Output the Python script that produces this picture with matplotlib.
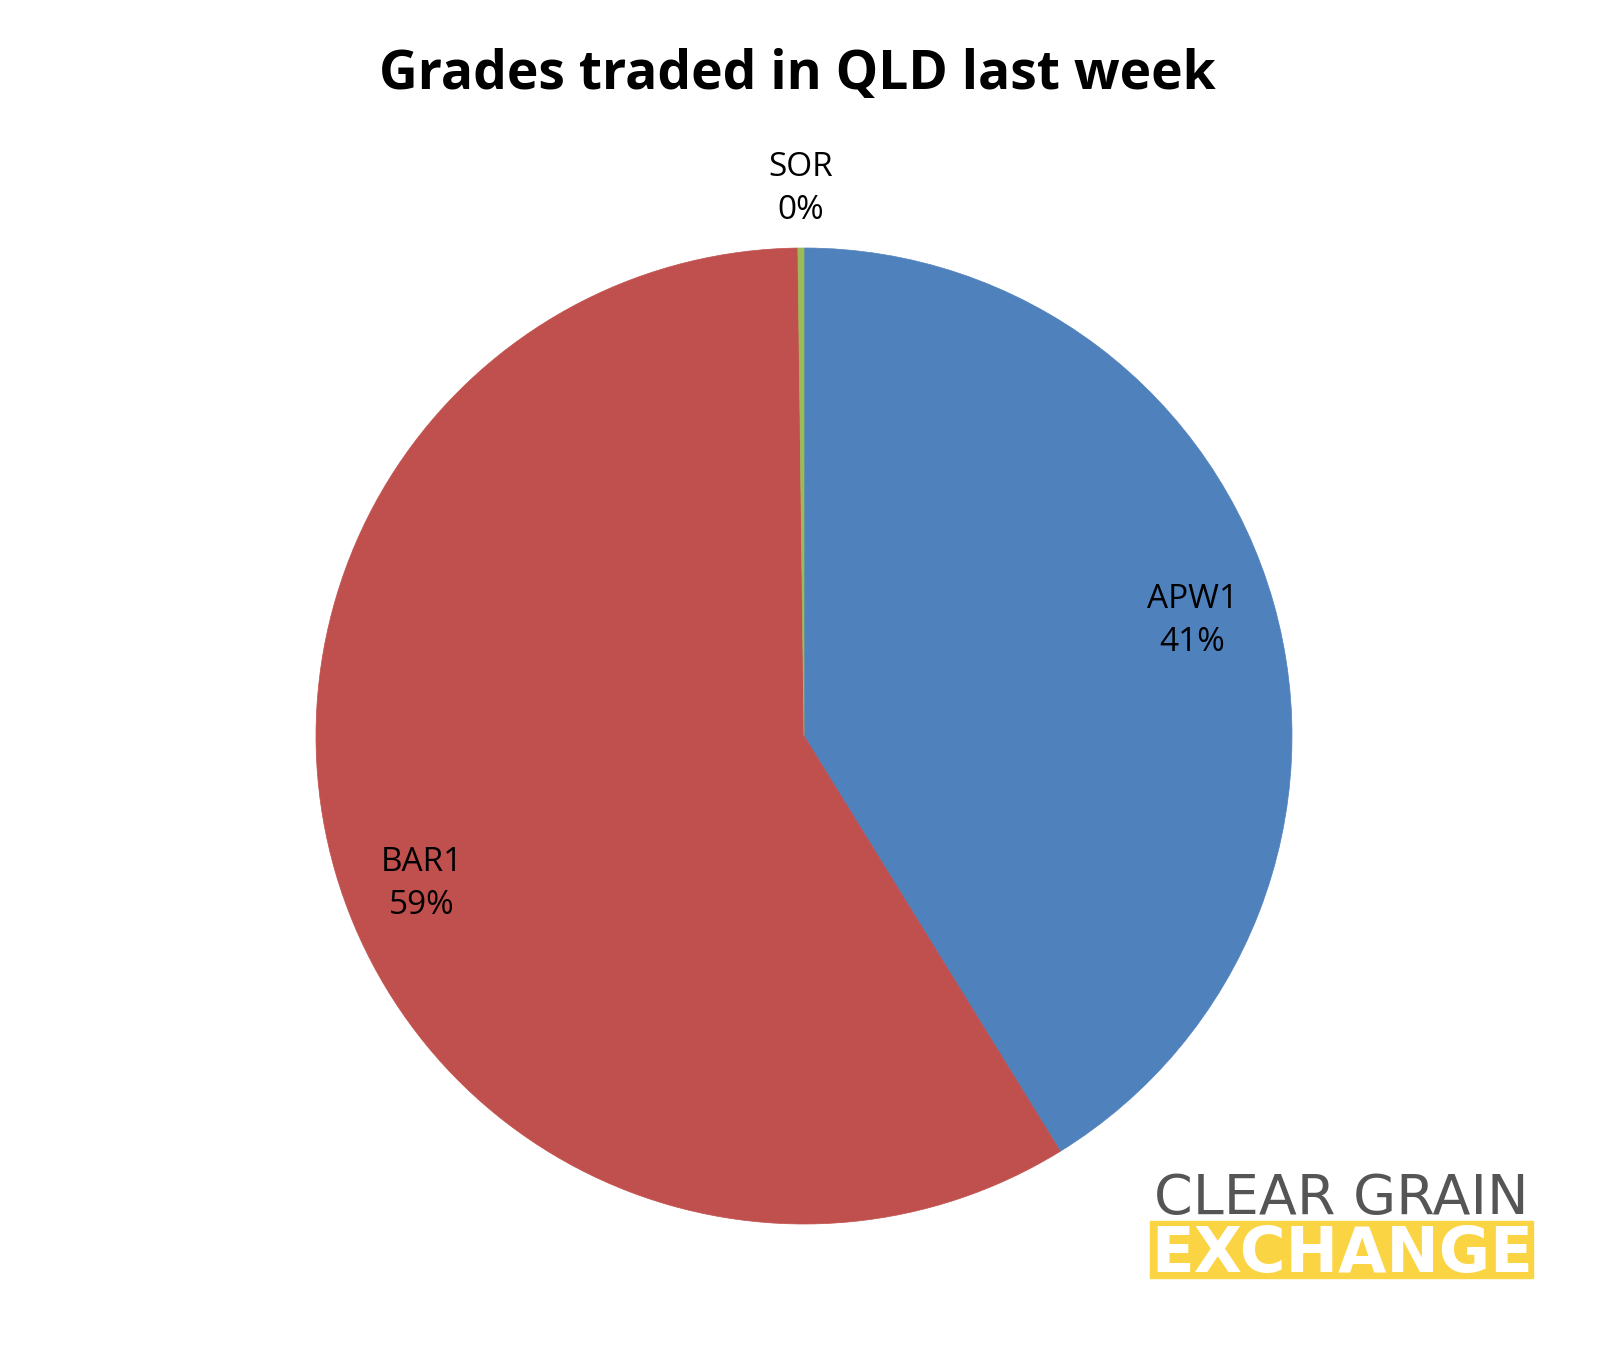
import numpy as np
import matplotlib
matplotlib.use("Agg")
import matplotlib.pyplot as plt
from matplotlib.patches import Rectangle

# data
grades = ["APW1", "BAR1", "SOR"]
shares = [41.2, 58.6, 0.2]
colors = ["#4F81BD", "#C0504D", "#9BBB59"]
# label placement: radius and angle nudge (deg) from the wedge middle
label_radius = [0.83, 0.84, 1.12]
label_nudge = [0.7, 5.0, 0.0]

plt.rcParams["font.family"] = ["Open Sans", "DejaVu Sans"]

fig = plt.figure(figsize=(16.09, 13.51), dpi=100)

# pie centred at (804, 736) px, radius 488 px
W, H = 1609, 1351
cx, cy, r = 804, H - 736, 488
ax = fig.add_axes([(cx - r) / W, (cy - r) / H, 2 * r / W, 2 * r / H])

wedges, _ = ax.pie(shares, colors=colors, startangle=90, counterclock=False,
                   wedgeprops=dict(linewidth=0))
for w, c in zip(wedges, colors):
    w.set_edgecolor(c)
    w.set_linewidth(0.5)
ax.set_xlim(-1, 1)
ax.set_ylim(-1, 1)
ax.set_aspect("auto")
ax.axis("off")

for w, name, val, rad, nd in zip(wedges, grades, shares, label_radius, label_nudge):
    ang = np.deg2rad((w.theta1 + w.theta2) / 2 + nd)
    ax.text(rad * np.cos(ang), rad * np.sin(ang), f"{name}\n{val:.0f}%",
            ha="center", va="center", fontsize=24, linespacing=1.4,
            color="black", clip_on=False)

fig.text(797 / W, 1 - 89 / H, "Grades traded in QLD last week",
         ha="center", va="baseline", fontsize=38.5, fontweight="bold")

# logo bottom right
fig.text(1341 / W, 1 - 1214 / H, "CLEAR GRAIN", ha="center", va="baseline",
         fontsize=40, color="#555555", family="DejaVu Sans")
fig.patches.append(Rectangle((1150 / W, 1 - 1278 / H), 383 / W, 57 / H,
                             transform=fig.transFigure, color="#FBD444",
                             zorder=1))
fig.text(1342 / W, 1 - 1272 / H, "EXCHANGE", ha="center", va="baseline",
         fontsize=45, color="white", fontweight="bold",
         family="DejaVu Sans", zorder=2)

fig.savefig("out.png", dpi=100, facecolor="white")
